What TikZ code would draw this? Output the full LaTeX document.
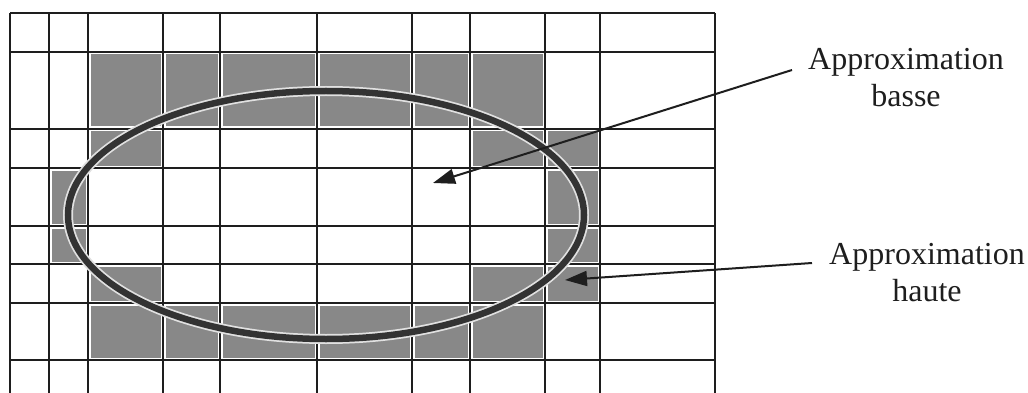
\documentclass[tikz,border=0pt]{standalone}
\usepackage{fontspec}
\setmainfont{Liberation Serif}
\usetikzlibrary{arrows.meta}
\definecolor{shade}{HTML}{888888}
\definecolor{ink}{HTML}{1E1E1E}
\definecolor{ell}{HTML}{333333}
\tikzset{
  gridline/.style={draw=ink, line width=2.2pt},
  cellfill/.style={fill=shade},
  ellstroke/.style={draw=ell, line width=6.5pt},
  ellhalo/.style={draw=white!75!shade, line width=10pt},
  pointer/.style={draw=ink, line width=2pt, -{Triangle[length=22pt,width=15pt]}},
  lbl/.style={font=\fontsize{32}{37}\selectfont, align=center, inner sep=0pt, text=ink}
}
\begin{document}
\begin{tikzpicture}[x=1pt,y=-1pt]
\useasboundingbox (0,0) rectangle (1028,393);
\fill[white] (0,0) rectangle (1028,393);
% shaded cells (inset slightly)
\def\cell#1#2#3#4{\fill[cellfill] (#1+2.5,#2+2.5) rectangle (#3-2.5,#4-2.5);}
% row 52-129
\cell{88}{52}{163}{129}\cell{163}{52}{220}{129}\cell{220}{52}{317}{129}
\cell{317}{52}{412}{129}\cell{412}{52}{470}{129}\cell{470}{52}{545}{129}
% row 129-168
\cell{88}{129}{163}{168}\cell{470}{129}{545}{168}\cell{545}{129}{600}{168}
% rows 168-226, 226-264
\cell{49}{168}{88}{226}\cell{545}{168}{600}{226}
\cell{49}{226}{88}{264}\cell{545}{226}{600}{264}
% row 264-303
\cell{88}{264}{163}{303}\cell{470}{264}{545}{303}\cell{545}{264}{600}{303}
% row 303-360
\cell{88}{303}{163}{360}\cell{163}{303}{220}{360}\cell{220}{303}{317}{360}
\cell{317}{303}{412}{360}\cell{412}{303}{470}{360}\cell{470}{303}{545}{360}
% grid
\foreach \y in {13,52,129,168,226,264,303,360}
  \draw[gridline] (10,\y) -- (715,\y);
\foreach \x in {10,49,88,163,220,317,412,470,545,600,715}
  \draw[gridline] (\x,13) -- (\x,393);
% ellipse
\draw[ellhalo] (326,215) ellipse [x radius=258, y radius=124];
\draw[ellstroke] (326,215) ellipse [x radius=258, y radius=124];
% labels (base anchor = baseline of the last line)
\node[lbl, anchor=base] (basse) at (906,107) {Approximation\\basse};
\node[lbl, anchor=base] (haute) at (927,301) {Approximation\\haute};
% pointers
\coordinate (bs) at (792,70);
\coordinate (bt) at (433,183);
\coordinate (hs) at (812,263);
\coordinate (ht) at (565,280);
\draw[pointer] (bs) -- (bt);
\draw[pointer] (hs) -- (ht);
\end{tikzpicture}
\end{document}
